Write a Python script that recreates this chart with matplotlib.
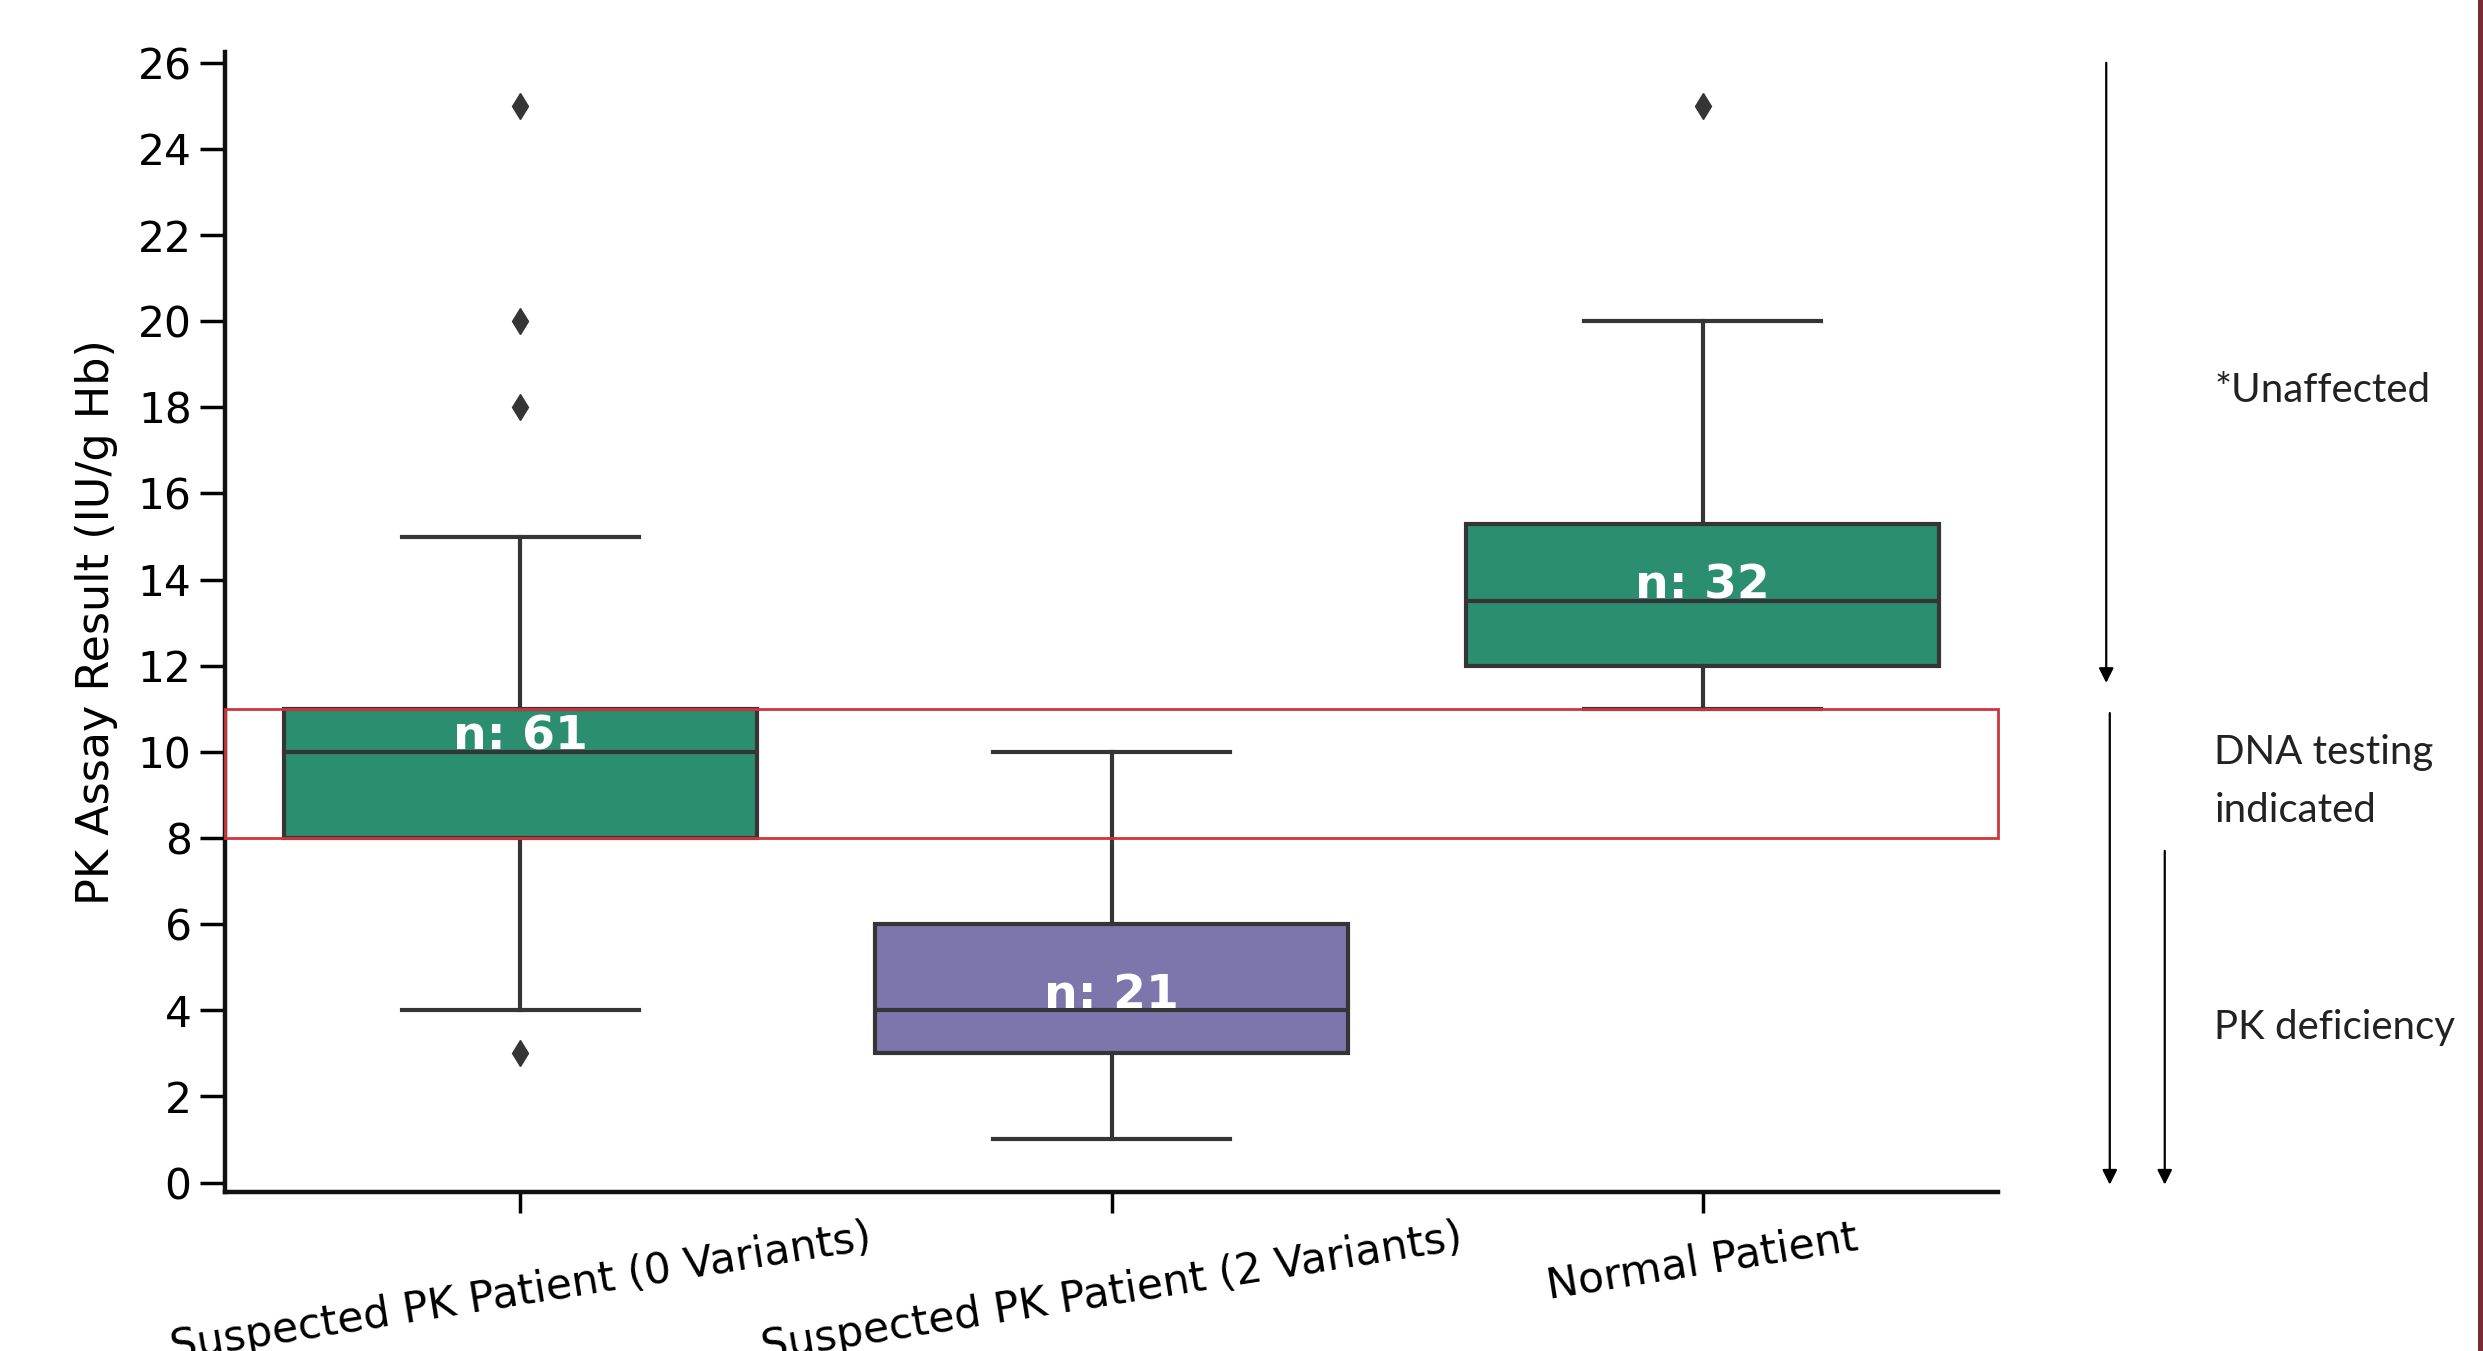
import matplotlib
matplotlib.use("Agg")
import matplotlib.pyplot as plt
import matplotlib.transforms as mtransforms
from matplotlib.patches import Rectangle

# ---- data ----
categories = ["Suspected PK Patient (0 Variants)",
              "Suspected PK Patient (2 Variants)",
              "Normal Patient"]
q1 = [8, 3, 12]
medians = [10, 4, 13.5]
q3 = [11, 6, 15.3]
whislo = [4, 1, 11]
whishi = [15, 10, 20]
fliers = [[25, 20, 18, 3], [], [25]]
counts = [61, 21, 32]
box_colors = ["#2b8e70", "#7c76ad", "#2b8e70"]
yticks = list(range(0, 27, 2))
band_low, band_high = 8, 11
side_labels = ["*Unaffected", "DNA testing\nindicated", "PK deficiency"]
side_label_y = [18.4, 9.3, 3.6]

line_c = "#353535"

fig = plt.figure(figsize=(24.83, 13.51), dpi=100)
ax = fig.add_axes([0.0906, 0.1177, 0.7141, 0.8438])

stats = []
for i in range(len(categories)):
    stats.append(dict(label=categories[i], q1=q1[i], med=medians[i], q3=q3[i],
                      whislo=whislo[i], whishi=whishi[i], fliers=fliers[i]))

bp = ax.bxp(stats, positions=range(len(categories)), widths=0.8, capwidths=0.4,
            patch_artist=True, showfliers=True,
            boxprops=dict(edgecolor=line_c, linewidth=3),
            whiskerprops=dict(color=line_c, linewidth=3),
            capprops=dict(color=line_c, linewidth=3),
            medianprops=dict(color=line_c, linewidth=3),
            flierprops=dict(marker="d", markerfacecolor=line_c, markeredgecolor=line_c,
                            markersize=13, linestyle="none"))
for patch, c in zip(bp["boxes"], box_colors):
    patch.set_facecolor(c)

for i, (m, n) in enumerate(zip(medians, counts)):
    ax.text(i, m + 0.05, f"n: {n}", ha="center", va="baseline", color="white",
            fontsize=34, fontweight="bold", zorder=5)

ax.set_xlim(-0.5, 2.5)
ax.set_ylim(-0.22, 26.25)

# red band
ax.add_patch(Rectangle((-0.5, band_low), 3.0, band_high - band_low, fill=False,
                       edgecolor="#d0343c", linewidth=2, zorder=4, clip_on=False))

ax.set_yticks(yticks)
ax.set_xticks(range(len(categories)))
ax.set_xticklabels(categories, rotation=9, ha="center", fontsize=30.5)
ax.tick_params(axis="y", labelsize=30.5, length=18, width=2.5, pad=6)
ax.tick_params(axis="x", length=15, width=2.5, pad=3)
ax.set_ylabel("PK Assay Result (IU/g Hb)", fontsize=32, labelpad=14)

for s in ["top", "right"]:
    ax.spines[s].set_visible(False)
for s in ["left", "bottom"]:
    ax.spines[s].set_linewidth(3.2)
    ax.spines[s].set_color("#111111")

# right-side arrows
trans = mtransforms.blended_transform_factory(ax.transAxes, ax.transData)
arrows = [(1.061, 26.0, 11.6), (1.063, 10.9, -0.05), (1.094, 7.7, -0.05)]
for x, y0, y1 in arrows:
    ax.annotate("", xy=(x, y1), xytext=(x, y0), xycoords=trans, textcoords=trans,
                arrowprops=dict(arrowstyle="-|>", color="black", lw=1.6,
                                mutation_scale=22, shrinkA=0, shrinkB=0),
                annotation_clip=False)

for lab, y in zip(side_labels, side_label_y):
    ax.text(1.122, y, lab, transform=trans, ha="left", va="center",
            fontsize=29, family=["Lato", "DejaVu Sans"], color="#222222",
            linespacing=1.7, clip_on=False)

# right border strip
fig.add_artist(Rectangle((0.998, 0), 0.002, 1, transform=fig.transFigure,
                         facecolor="#7a2a35", edgecolor="none"))

fig.savefig("out.png", dpi=100)
